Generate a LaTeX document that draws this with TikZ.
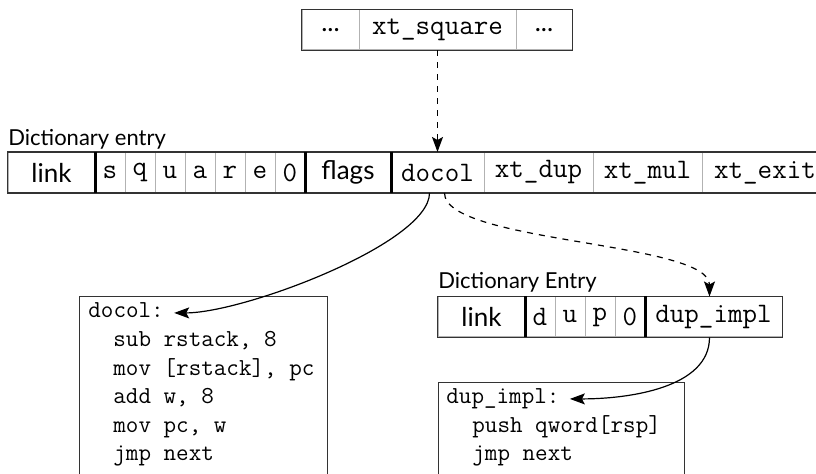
\documentclass[tikz,border=0pt]{standalone}
\usepackage{fontspec}
\setmainfont{Lato}
\newfontfamily\codefont{Latin Modern Mono}
\usetikzlibrary{arrows.meta}

\tikzset{
  cell/.style={draw=gray!60, line width=0.5pt, minimum height=20pt, inner sep=0pt,
    font=\fontsize{13}{15}\selectfont},
  mono/.style={font=\codefont\fontsize{14.1}{16}\selectfont},
  rowframe/.style={draw=black!80, line width=0.8pt},
  thicksep/.style={black, line width=1.3pt},
  asm/.style={anchor=base west, inner sep=0pt, font=\codefont\fontsize{12.2}{14}\selectfont},
  entrytitle/.style={anchor=base west, inner sep=0pt, font=\fontsize{11}{13}\selectfont},
  codebox/.style={draw=black!80, line width=0.7pt, anchor=north west, inner sep=0pt},
  ptr/.style={-{Stealth[length=7.5pt,width=5.5pt,inset=1.5pt]}, line width=0.6pt},
}

\begin{document}
\begin{tikzpicture}[x=0.5pt,y=-0.5pt]
  \useasboundingbox (0,0) rectangle (816,474);
  \clip (0,0) rectangle (816,474);

  % threaded code of the caller
  \node[cell, minimum width=28.5pt] (dotsl) at (330.5,30) {...};
  \node[cell, mono, minimum width=78.5pt] (xtsq) at (437.5,30) {xt\_square};
  \node[cell, minimum width=28pt] (dotsr) at (544,30) {...};
  \draw[rowframe] (dotsl.north west) rectangle (dotsr.south east);

  % entry of square
  \node[entrytitle] (sqtitle) at (8,146) {Dictionary entry};
  \node[cell, minimum width=43.5pt] (link) at (51.5,172.5) {link};
  \node[cell, mono, minimum width=15pt] (s) at (110,172.5) {s};
  \node[cell, mono, minimum width=15pt] (q) at (140,172.5) {q};
  \node[cell, mono, minimum width=15pt] (u) at (170,172.5) {u};
  \node[cell, mono, minimum width=15pt] (a) at (200,172.5) {a};
  \node[cell, mono, minimum width=15pt] (r) at (230,172.5) {r};
  \node[cell, mono, minimum width=15pt] (e) at (260,172.5) {e};
  \node[cell, mono, minimum width=15pt] (zero) at (290,172.5) {0};
  \node[cell, minimum width=43pt] (flags) at (348,172.5) {flags};
  \node[cell, mono, minimum width=46.5pt] (docol) at (437.5,172.5) {docol};
  \node[cell, mono, minimum width=54.5pt] (xtdup) at (538.5,172.5) {xt\_dup};
  \node[cell, mono, minimum width=54.5pt] (xtmul) at (647.5,172.5) {xt\_mul};
  \node[cell, mono, minimum width=63pt] (xtexit) at (765,172.5) {xt\_exit};
  \draw[rowframe] (link.north west) rectangle (xtexit.south east);
  \draw[thicksep] (link.north east) -- (link.south east);
  \draw[thicksep] (zero.north east) -- (zero.south east);
  \draw[thicksep] (flags.north east) -- (flags.south east);

  % entry of dup
  \node[entrytitle] (duptitle) at (438,289) {Dictionary Entry};
  \node[cell, minimum width=43.5pt] (linkb) at (481.5,317) {link};
  \node[cell, mono, minimum width=15pt] (d) at (540,317) {d};
  \node[cell, mono, minimum width=15pt] (ub) at (570,317) {u};
  \node[cell, mono, minimum width=15pt] (p) at (600,317) {p};
  \node[cell, mono, minimum width=15pt] (zerob) at (630,317) {0};
  \node[cell, mono, minimum width=68.5pt] (dupimpl) at (713.5,317) {dup\_impl};
  \draw[rowframe] (linkb.north west) rectangle (dupimpl.south east);
  \draw[thicksep] (linkb.north east) -- (linkb.south east);
  \draw[thicksep] (zerob.north east) -- (zerob.south east);

  % docol listing
  \node[codebox, minimum width=124pt, minimum height=97pt] (docolbox) at (79,296) {};
  \node[asm] (docolhead) at (88,318) {docol:};
  \node[asm] (dc1) at (113,347) {sub rstack, 8};
  \node[asm] (dc2) at (113,375.5) {mov [rstack], pc};
  \node[asm] (dc3) at (113,404) {add w, 8};
  \node[asm] (dc4) at (113,432.5) {mov pc, w};
  \node[asm] (dc5) at (113,461) {jmp next};

  % dup listing
  \node[codebox, minimum width=123pt, minimum height=54pt] (dupbox) at (438,382) {};
  \node[asm] (duphead) at (446,404) {dup\_impl:};
  \node[asm] (dp1) at (472,433) {push qword[rsp]};
  \node[asm] (dp2) at (472,461) {jmp next};

  % pointers
  \draw[ptr, dashed] (xtsq.south) -- (docol.north);
  \draw[ptr] ([xshift=-4pt]docol.south) .. controls +(0,50) and +(70,0) .. ([xshift=5pt]docolhead.mid east);
  \draw[ptr, dashed] ([xshift=3.5pt]docol.south) .. controls +(0,50) and +(0,-55) .. ([xshift=-2pt]dupimpl.north);
  \draw[ptr] ([xshift=-2pt]dupimpl.south) .. controls +(0,50) and +(60,0) .. ([xshift=5pt]duphead.mid east);
\end{tikzpicture}
\end{document}
